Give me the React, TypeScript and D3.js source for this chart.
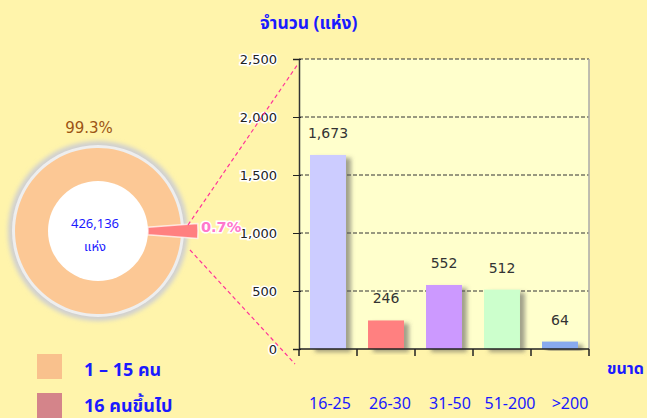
import React, { useEffect, useRef } from "react";
import * as d3 from "d3";

// ข้อมูล
const sizes = ["16-25", "26-30", "31-50", "51-200", ">200"];
const counts = [1673, 246, 552, 512, 64];
const barColors = ["#ccccff", "#ff8080", "#cc99ff", "#ccffcc", "#88aaee"];
const yTicks = [0, 500, 1000, 1500, 2000, 2500];

const pieLabels = ["1 – 15 คน", "16 คนขึ้นไป"];
const pieShares = [99.3, 0.7];
const pieColors = ["#fcc895", "#ff8080"];
const legendColors = ["#f9c18d", "#d4848a"];
const total = "426,136";

const thai = "'Noto Sans Thai', Tahoma, 'Noto Sans', sans-serif";
const blue = "#1a1aff";

const App = () => {
  const ref = useRef<SVGSVGElement>(null);

  useEffect(() => {
    const W = 647, H = 418;
    const svg = d3.select(ref.current).attr("width", W).attr("height", H);
    svg.selectAll("*").remove();

    svg.append("rect").attr("width", W).attr("height", H).attr("fill", "#fff4ab");

    const defs = svg.append("defs");
    const sh = defs.append("filter").attr("id", "barShadow")
      .attr("x", "-20%").attr("y", "-20%").attr("width", "160%").attr("height", "140%");
    sh.append("feDropShadow").attr("dx", 5).attr("dy", 3).attr("stdDeviation", 2)
      .attr("flood-color", "#555").attr("flood-opacity", 0.55);
    const halo = defs.append("filter").attr("id", "halo")
      .attr("x", "-20%").attr("y", "-20%").attr("width", "140%").attr("height", "140%");
    halo.append("feGaussianBlur").attr("stdDeviation", 2);

    // ---- bar chart ----
    const left = 299, right = 589, top = 59, bottom = 349;
    const x = d3.scaleBand().domain(sizes).range([left, right]).paddingInner(0.38).paddingOuter(0.19);
    const xEdges = d3.scaleBand().domain(sizes).range([left, right]);
    const y = d3.scaleLinear().domain([0, 2500]).range([bottom, top]);

    svg.append("rect").attr("x", left).attr("y", top)
      .attr("width", right - left).attr("height", bottom - top).attr("fill", "#ffffcc");

    svg.append("g").selectAll("line").data(yTicks.slice(1)).join("line")
      .attr("x1", left).attr("x2", right)
      .attr("y1", d => y(d)).attr("y2", d => y(d))
      .attr("stroke", "#333").attr("stroke-dasharray", "4,2").attr("stroke-width", 1);

    svg.append("line").attr("x1", right).attr("x2", right).attr("y1", top).attr("y2", bottom)
      .attr("stroke", "#aaa").attr("stroke-width", 1.5);

    svg.append("g").selectAll("rect").data(counts).join("rect")
      .attr("x", (d, i) => x(sizes[i])!)
      .attr("y", d => y(d))
      .attr("width", x.bandwidth())
      .attr("height", d => bottom - y(d))
      .attr("fill", (d, i) => barColors[i])
      .attr("filter", "url(#barShadow)");

    svg.append("g").selectAll("text").data(counts).join("text")
      .attr("x", (d, i) => x(sizes[i])! + x.bandwidth() / 2)
      .attr("y", d => y(d) - 17)
      .attr("text-anchor", "middle")
      .attr("font-family", "'DejaVu Sans', sans-serif").attr("font-size", 14)
      .attr("fill", "#333")
      .text(d => d3.format(",")(d));

    // axes
    const yAxis = d3.axisLeft(y).tickValues(yTicks).tickFormat(d3.format(",")).tickSize(6).tickPadding(16);
    const gy = svg.append("g").attr("transform", `translate(${left},0)`).call(yAxis);
    gy.select(".domain").attr("stroke", "#333").attr("stroke-width", 1.5);
    gy.selectAll(".tick line").attr("stroke", "#222").attr("x2", -6).attr("x1", 2);
    gy.selectAll(".tick text")
      .attr("font-family", "'DejaVu Sans', sans-serif").attr("font-size", 13).attr("fill", "#222")
      .attr("stroke", "#fff").attr("stroke-width", 3).attr("paint-order", "stroke");

    const edges = sizes.map(s => xEdges(s)!).concat([right]);
    svg.append("line").attr("x1", left).attr("x2", right).attr("y1", bottom).attr("y2", bottom)
      .attr("stroke", "#222").attr("stroke-width", 1.5);
    svg.append("g").selectAll("line").data(edges).join("line")
      .attr("x1", d => d).attr("x2", d => d).attr("y1", bottom).attr("y2", bottom + 7)
      .attr("stroke", "#222").attr("stroke-width", 1.5);

    const xl = d3.scalePoint().domain(sizes).range([330, 570]);
    svg.append("g").selectAll("text").data(sizes).join("text")
      .attr("x", d => xl(d)!).attr("y", 409)
      .attr("text-anchor", "middle")
      .attr("font-family", thai).attr("font-size", 16).attr("fill", blue)
      .text(d => d);

    svg.append("text").attr("x", 607).attr("y", 374)
      .attr("font-family", thai).attr("font-size", 16).attr("font-weight", "bold").attr("fill", blue)
      .text("ขนาด");

    svg.append("text").attr("x", 260).attr("y", 29)
      .attr("font-family", thai).attr("font-size", 17.5).attr("font-weight", "bold").attr("fill", blue)
      .text("จำนวน (แห่ง)");

    // ---- donut ----
    const cx = 98, cy = 231;
    const pie = d3.pie<number>().sort(null)
      .startAngle(Math.PI / 2 + (0.7 / 100) * Math.PI)
      .endAngle(Math.PI / 2 + (0.7 / 100) * Math.PI + 2 * Math.PI);
    const arcs = pie(pieShares);
    const g = svg.append("g").attr("transform", `translate(${cx},${cy})`);

    g.append("circle").attr("r", 90).attr("fill", "#d0d0d0").attr("filter", "url(#halo)");
    g.append("circle").attr("r", 86).attr("fill", "#eeeeee");

    const ring = d3.arc<d3.PieArcDatum<number>>().innerRadius(0).outerRadius(83);
    g.append("path").datum(arcs[0]).attr("d", ring).attr("fill", pieColors[0]);
    g.append("circle").attr("r", 50).attr("fill", "#fff");

    // small slice, widened a little so that it can be seen
    const s = arcs[1];
    const mid = (s.startAngle + s.endAngle) / 2;
    const wide = Math.max(s.endAngle - s.startAngle, 0.15);
    const sliceArc = d3.arc<any>().innerRadius(50).outerRadius(100);
    g.append("path")
      .attr("d", sliceArc({ startAngle: mid - wide / 2, endAngle: mid + wide / 2 }))
      .attr("fill", pieColors[1]).attr("stroke", "#fff").attr("stroke-width", 1.5)
      .attr("stroke-opacity", 0.7);

    g.append("text").attr("x", -3).attr("y", -3).attr("text-anchor", "middle")
      .attr("font-family", thai).attr("font-size", 13).attr("fill", blue).text(total);
    g.append("text").attr("x", -3).attr("y", 20).attr("text-anchor", "middle")
      .attr("font-family", thai).attr("font-size", 13).attr("fill", blue).text("แห่ง");

    svg.append("text").attr("x", 89).attr("y", 133).attr("text-anchor", "middle")
      .attr("font-family", "'DejaVu Sans', sans-serif").attr("font-size", 15).attr("fill", "#9c5414")
      .text(d3.format(".1f")(pieShares[0]) + "%");
    svg.append("text").attr("x", 201).attr("y", 232)
      .attr("font-family", "'DejaVu Sans', sans-serif").attr("font-size", 14.5).attr("font-weight", "bold")
      .attr("fill", "#ff77cc").attr("stroke", "#fff").attr("stroke-width", 3).attr("paint-order", "stroke")
      .text(d3.format(".1f")(pieShares[1]) + "%");

    // connector lines
    const links = [[188, 225, 298, 64], [190, 250, 295, 364]];
    svg.append("g").selectAll("line").data(links).join("line")
      .attr("x1", d => d[0]).attr("y1", d => d[1]).attr("x2", d => d[2]).attr("y2", d => d[3])
      .attr("stroke", "#ff3399").attr("stroke-width", 1.2).attr("stroke-dasharray", "4,3");

    // legend
    const lg = svg.append("g").selectAll("g").data(pieLabels).join("g")
      .attr("transform", (d, i) => `translate(37,${354 + i * 39})`);
    lg.append("rect").attr("width", 25).attr("height", 25).attr("fill", (d, i) => legendColors[i]);
    lg.append("text").attr("x", 47).attr("y", (d, i) => (i === 0 ? 22 : 19))
      .attr("font-family", thai).attr("font-size", 18).attr("font-weight", "bold").attr("fill", blue)
      .text(d => d);
  }, []);

  return <svg ref={ref} style={{ position: "absolute", left: 0, top: 0 }}></svg>;
};

export default App;
